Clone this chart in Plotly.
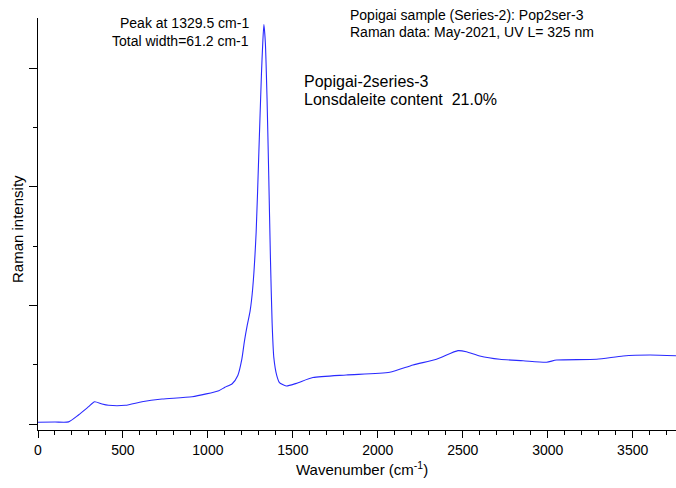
import plotly.graph_objects as go

# Data
wavenumber = [0, 100, 180, 238, 298, 333, 377, 415, 514, 612, 730, 907, 1064, 1100,
              1143, 1176, 1200, 1215, 1231, 1248, 1264, 1284, 1300, 1315, 1323, 1329.5,
              1338, 1348, 1358, 1368, 1378, 1388, 1405, 1421, 1461, 1520, 1618, 1814,
              2070, 2207, 2345, 2472, 2521, 2600, 2718, 2855, 2993, 3052, 3288, 3444,
              3601, 3755]
intensity = [0.015, 0.017, 0.018, 0.076, 0.146, 0.188, 0.169, 0.158, 0.158, 0.188, 0.211,
             0.230, 0.281, 0.31, 0.34, 0.41, 0.55, 0.70, 0.83, 0.95, 1.15, 1.62, 2.30,
             2.95, 3.22, 3.37, 3.22, 2.75, 2.10, 1.40, 0.85, 0.56, 0.41, 0.35, 0.321,
             0.343, 0.392, 0.414, 0.436, 0.498, 0.546, 0.619, 0.610, 0.574, 0.546, 0.534,
             0.521, 0.540, 0.546, 0.574, 0.582, 0.576]

x_ticks = [0, 500, 1000, 1500, 2000, 2500, 3000, 3500]

W, H = 676, 488
ML, MR, MT, MB = 38, 0, 18, 58
PW, PH = W - ML - MR, H - MT - MB

def px(x):
    return (x - ML) / PW

def py(y):
    return (H - MB - y) / PH

FONT = "Arial, Liberation Sans, sans-serif"

fig = go.Figure()
fig.add_trace(go.Scatter(
    x=wavenumber, y=intensity, mode="lines",
    line=dict(color="#2a2aff", width=1.1, shape="spline", smoothing=0.6),
    showlegend=False, hoverinfo="skip"))

axis_common = dict(showgrid=False, zeroline=False, showline=True, linecolor="black",
                   linewidth=1, ticks="outside", tickcolor="black", tickwidth=1)

fig.update_xaxes(range=[0, 3755], tickmode="array", tickvals=x_ticks,
                 ticklen=7, tickfont=dict(family=FONT, size=14, color="black"),
                 minor=dict(dtick=100, tick0=0, ticks="outside", ticklen=4,
                            tickcolor="black", showgrid=False),
                 **axis_common)
fig.update_yaxes(range=[-0.0506, 3.426], tick0=0, dtick=1, ticklen=8,
                 showticklabels=False,
                 minor=dict(dtick=0.5, tick0=0, ticks="outside", ticklen=4,
                            tickcolor="black", showgrid=False),
                 **axis_common)

def ann(text, x, y, size, xanchor="left", textangle=0):
    fig.add_annotation(text=text, xref="paper", yref="paper", x=px(x), y=py(y),
                       xanchor=xanchor, yanchor="middle", showarrow=False,
                       textangle=textangle,
                       font=dict(family=FONT, size=size, color="black"))

ann("Peak at 1329.5 cm-1", 251, 23.3, 14, xanchor="right")
ann("Total width=61.2 cm-1", 251, 40.7, 14, xanchor="right")
ann("Popigai sample (Series-2): Pop2ser-3", 348, 14.7, 14)
ann("Raman data: May-2021, UV L= 325 nm", 348, 32.3, 14)
ann("Popigai-2series-3", 302, 81, 16)
ann("Lonsdaleite content  21.0%", 302, 99, 16)
ann("Wavenumber (cm<sup>-1</sup>)", 362, 468, 15, xanchor="center")
ann("Raman intensity", 17, 229, 15, xanchor="center", textangle=-90)

fig.update_layout(width=W, height=H, margin=dict(l=ML, r=MR, t=MT, b=MB),
                  plot_bgcolor="white", paper_bgcolor="white")

fig.write_html("out.html")
